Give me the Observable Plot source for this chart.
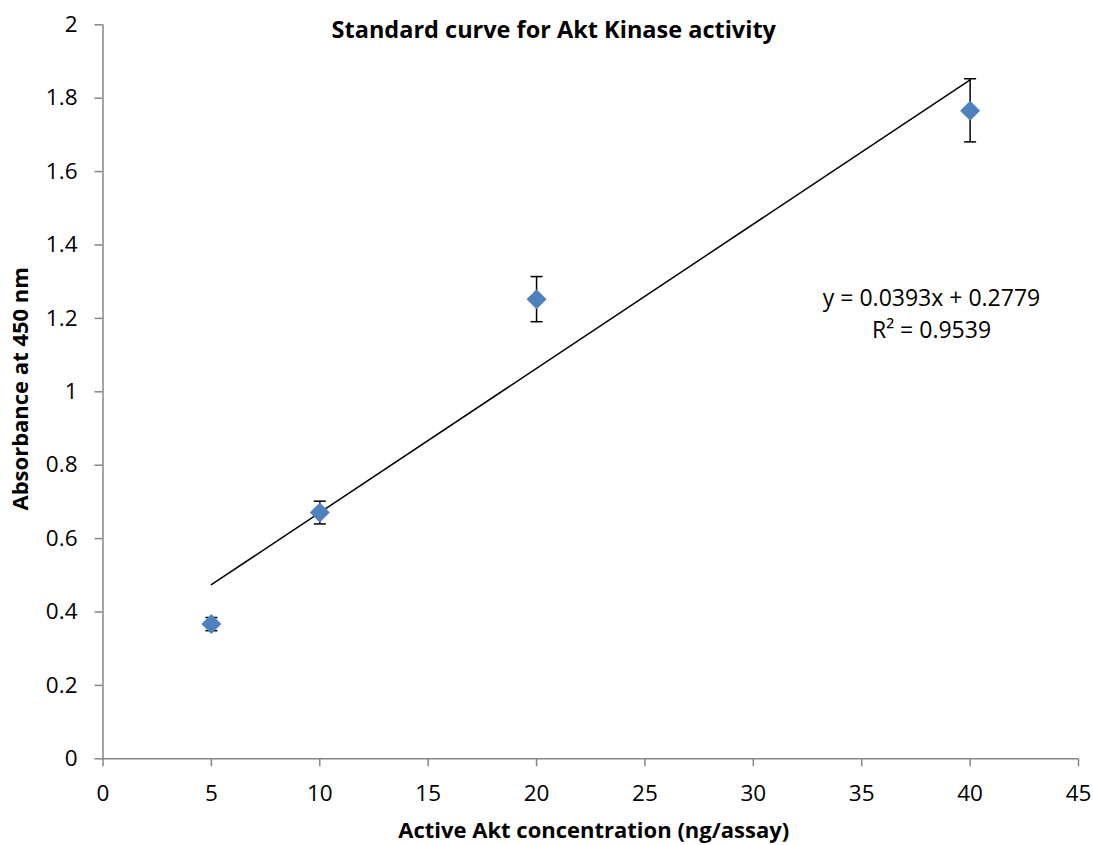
<!DOCTYPE html>
<html>
<head>
<meta charset="utf-8">
<script src="https://cdn.jsdelivr.net/npm/d3@7"></script>
<script src="https://cdn.jsdelivr.net/npm/@observablehq/plot@0.6"></script>
<style>
  html, body { margin: 0; padding: 0; background: #fff; }
  #chart { width: 1093px; height: 845px; }
</style>
</head>
<body>
<div id="chart"></div>
<script>
// Data
const concentrations = [5, 10, 20, 40];
const absorbance = [0.367, 0.671, 1.252, 1.766];
const errLow = [0.349, 0.640, 1.191, 1.681];
const errHigh = [0.385, 0.702, 1.314, 1.853];
const trendSlope = [0.0393];
const trendIntercept = [0.2779];
const trendRange = [5, 40];
const xTicks = [0, 5, 10, 15, 20, 25, 30, 35, 40, 45];
const yTicks = [0, 0.2, 0.4, 0.6, 0.8, 1, 1.2, 1.4, 1.6, 1.8, 2];
const titleText = "Standard curve for Akt Kinase activity";
const xLabel = "Active Akt concentration (ng/assay)";
const yLabel = "Absorbance at 450 nm";
const eqLines = ["y = 0.0393x + 0.2779", "R² = 0.9539"];

const points = concentrations.map((c, i) => ({x: c, y: absorbance[i], lo: errLow[i], hi: errHigh[i]}));
const trend = trendRange.map(x => ({x, y: trendSlope[0] * x + trendIntercept[0]}));
const caps = points.flatMap(d => [{x: d.x, y: d.lo}, {x: d.x, y: d.hi}]);

const capSymbol = {
  draw(ctx, size) {
    const r = Math.sqrt(size / Math.PI);
    ctx.moveTo(-r, 0);
    ctx.lineTo(r, 0);
  }
};

const font = "'Open Sans', sans-serif";
const axisColor = "#868686";

const chart = Plot.plot({
  width: 1093,
  height: 845,
  marginLeft: 102.5,
  marginRight: 15,
  marginTop: 24.3,
  marginBottom: 86.7,
  style: {fontFamily: font, fontSize: "22px", color: "#000", background: "#fff"},
  x: {domain: [0, 45], label: null},
  y: {domain: [0, 2], label: null},
  marks: [
    Plot.ruleY([0], {stroke: axisColor, strokeWidth: 1.5}),
    Plot.ruleX([0], {stroke: axisColor, strokeWidth: 1.5}),
    Plot.axisX({ticks: xTicks, tickSize: 8, tickPadding: 18.5, stroke: axisColor, strokeWidth: 1.5, fill: "#000", fontSize: 22.5, tickFormat: d => String(d)}),
    Plot.axisY({ticks: yTicks, tickSize: 8, tickPadding: 17.5, stroke: axisColor, strokeWidth: 1.5, fill: "#000", fontSize: 22.5, tickFormat: d => String(+d.toFixed(1))}),
    Plot.line(trend, {x: "x", y: "y", stroke: "#000", strokeWidth: 1.5}),
    Plot.ruleX(points, {x: "x", y1: "lo", y2: "hi", stroke: "#000", strokeWidth: 1.5}),
    Plot.dot(caps, {x: "x", y: "y", symbol: capSymbol, r: 6, stroke: "#000", strokeWidth: 1.5}),
    Plot.dot(points, {x: "x", y: "y", symbol: "diamond2", r: 9, fill: "#4F81BD", stroke: "none"}),
    Plot.text([titleText], {frameAnchor: "top", dx: -37, dy: 5.7, fontSize: 23.5, fontWeight: "bold", fill: "#000", textAnchor: "middle", lineAnchor: "middle"}),
    Plot.text([xLabel], {frameAnchor: "bottom", dx: 3, dy: 71.7, fontSize: 22, fontWeight: "bold", fill: "#000", textAnchor: "middle", lineAnchor: "middle"}),
    Plot.text([yLabel], {frameAnchor: "left", dx: -82.5, dy: -3, rotate: -90, fontSize: 22, fontWeight: "bold", fill: "#000", textAnchor: "middle", lineAnchor: "middle"}),
    Plot.text([eqLines[0]], {frameAnchor: "top-right", dx: -147, dy: 273.7, fontSize: 23, fill: "#000", textAnchor: "middle", lineAnchor: "middle"}),
    Plot.text([eqLines[1]], {frameAnchor: "top-right", dx: -147, dy: 305.7, fontSize: 23, fill: "#000", textAnchor: "middle", lineAnchor: "middle"})
  ]
});
document.getElementById("chart").appendChild(chart);
</script>
</body>
</html>
